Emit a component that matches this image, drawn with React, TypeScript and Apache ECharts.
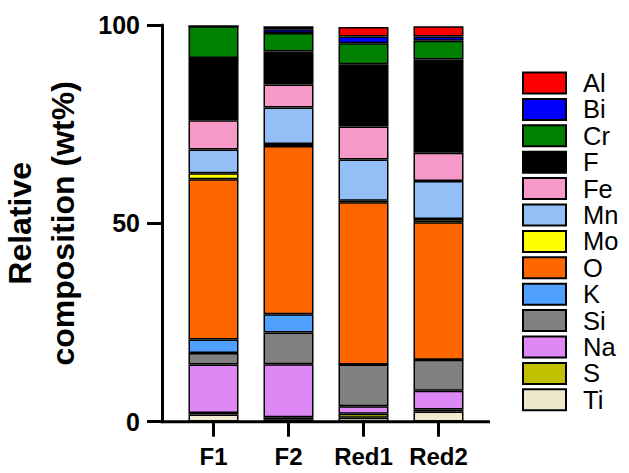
import React, { useEffect, useRef } from "react";
import * as echarts from "echarts";

const categories = ["F1", "F2", "Red1", "Red2"];
// stacking order bottom -> top
const elements = ["Ti", "S", "Na", "Si", "K", "O", "Mo", "Mn", "Fe", "F", "Cr", "Bi", "Al"];
const colors = ["#EEE8CC", "#C0C000", "#DE88F5", "#808080", "#4FA0FF", "#FF6600", "#FFFF00", "#93BFF7", "#F799C9", "#000000", "#008000", "#0000FF", "#FF0000"];
const Ti = [1.8, 0.6, 1.0, 2.6];
const S = [0.4, 0.5, 1.0, 0.5];
const Na = [12.2, 13.4, 1.9, 4.7];
const Si = [2.9, 8.0, 10.5, 7.8];
const K = [3.4, 4.6, 0, 0];
const O = [40.4, 42.4, 40.9, 34.7];
const Mo = [1.5, 0.5, 0.4, 0.8];
const Mn = [6.0, 9.2, 10.4, 9.6];
const Fe = [7.4, 5.8, 8.3, 7.1];
const F = [15.7, 8.3, 15.7, 23.5];
const Cr = [8.0, 4.7, 5.3, 4.7];
const Bi = [0, 0.9, 1.7, 1.1];
const Al = [0, 0.8, 2.4, 2.6];
const values = [Ti, S, Na, Si, K, O, Mo, Mn, Fe, F, Cr, Bi, Al];
const legendOrder = ["Al", "Bi", "Cr", "F", "Fe", "Mn", "Mo", "O", "K", "Si", "Na", "S", "Ti"];
const yTicks = [0, 50, 100];

const FONT = "'Liberation Sans', Arial, Helvetica, sans-serif";

export default function App() {
  const ref = useRef<HTMLDivElement>(null);
  useEffect(() => {
    const chart = echarts.init(ref.current!, null, { renderer: "svg" });
    chart.setOption({
      animation: false,
      backgroundColor: "#ffffff",
      grid: { left: 176, right: 153, top: 25, bottom: 51.3, containLabel: false, outerBoundsMode: "none" },
      legend: {
        orient: "vertical",
        left: 517,
        top: 65,
        data: legendOrder,
        itemWidth: 43,
        itemHeight: 21,
        itemGap: 0.4,
        icon: "rect",
        textStyle: { fontFamily: FONT, fontSize: 25.5, lineHeight: 26, color: "#000", padding: [0, 0, 0, 12] },
      },
      xAxis: {
        type: "category",
        data: categories,
        axisLine: { show: false },
        axisTick: { show: true, alignWithLabel: true, length: 15, lineStyle: { width: 3, color: "#000" } },
        axisLabel: { interval: 0, fontFamily: FONT, fontSize: 24, fontWeight: "bold", color: "#000", margin: 23 },
      },
      yAxis: {
        type: "value",
        min: yTicks[0],
        max: yTicks[yTicks.length - 1],
        interval: 50,
        offset: 14,
        splitLine: { show: false },
        axisLine: { show: true, lineStyle: { width: 3, color: "#000" } },
        axisTick: { show: true, length: 15, lineStyle: { width: 3, color: "#000" } },
        axisLabel: { fontFamily: FONT, fontSize: 25, fontWeight: "bold", color: "#000", margin: 22 },
        name: "Relative\ncomposition (wt%)",
        nameLocation: "middle",
        nameRotate: 90,
        nameGap: 78,
        nameTextStyle: { fontFamily: FONT, fontSize: 32, fontWeight: "bold", color: "#000", lineHeight: 43, align: "center" },
      },
      graphic: [
        {
          type: "line",
          shape: { x1: 160.5, y1: 421.7, x2: 490, y2: 421.7 },
          style: { stroke: "#000", lineWidth: 3 },
          z: 10,
        },
      ],
      series: elements.map((name, i) => ({
        name,
        type: "bar",
        stack: "total",
        barWidth: 50,
        data: values[i],
        itemStyle: { color: colors[i], borderColor: "#000", borderWidth: 1.5 },
      })),
    });
    return () => chart.dispose();
  }, []);
  return <div ref={ref} style={{ position: "fixed", left: 0, top: 0, width: 629, height: 473 }} />;
}
